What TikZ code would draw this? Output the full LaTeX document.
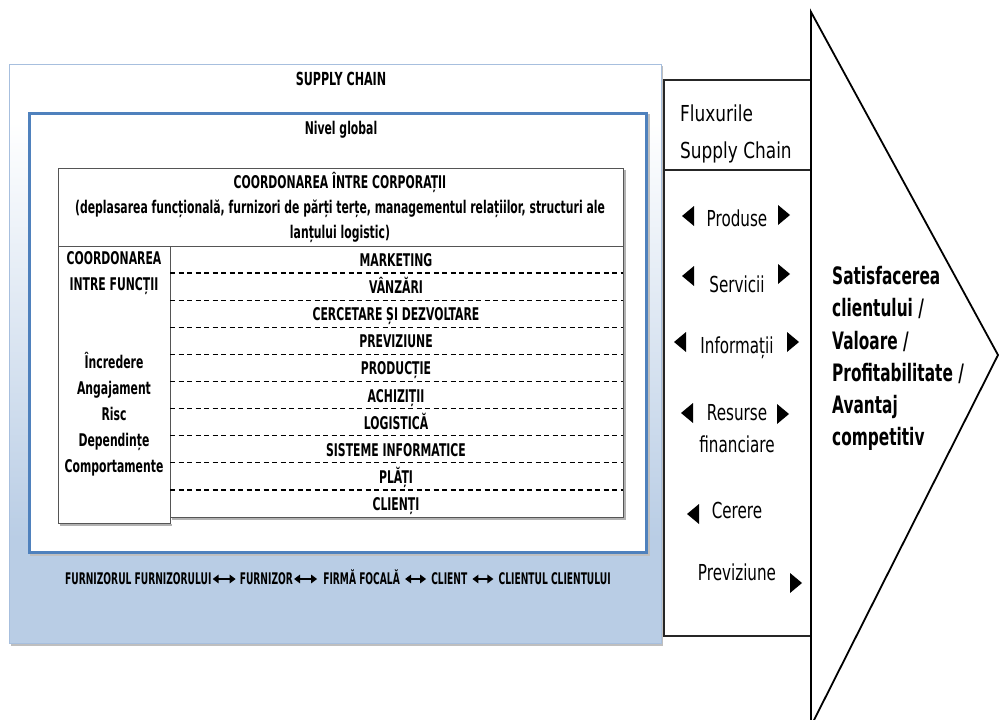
\documentclass[tikz,border=0pt]{standalone}
\usepackage{fontspec}
\usetikzlibrary{arrows.meta}
\setmainfont{DejaVu Sans}[FakeStretch=0.62]
\newfontfamily\headfont{DejaVu Sans}[FakeStretch=0.77]
\newfontfamily\fluxfont{DejaVu Sans}[FakeStretch=0.69]
\newfontfamily\chainfont{DejaVu Sans}[FakeStretch=0.57]
\newfontfamily\goalfont{DejaVu Sans}[FakeStretch=0.64]

\definecolor{panelblue}{HTML}{B9CDE5}
\definecolor{frameblue}{HTML}{4F81BD}
\definecolor{edgeblue}{HTML}{A7BFDE}
\definecolor{tablegrey}{HTML}{555555}

% background of the supply chain panel: white at the top, blue towards the bottom
% (the panel itself covers the band 25bp..75bp of the shading)
\pgfdeclareverticalshading{panelshade}{100bp}{color(0bp)=(panelblue); color(34bp)=(panelblue); color(70bp)=(white); color(100bp)=(white)}

% filled arrow heads used in the flow column
\newcommand\tipleft[2]{\fill[black] (#1-6,#2) -- (#1+6,#2-10) -- (#1+6,#2+10) -- cycle;}
\newcommand\tipright[2]{\fill[black] (#1+6,#2) -- (#1-6,#2-10) -- (#1-6,#2+10) -- cycle;}

\tikzset{
  boldlbl/.style={inner sep=0pt, align=center, font=\bfseries\fontsize{17.5}{25}\selectfont},
  rowlbl/.style={inner sep=0pt, text height=12.5pt, text depth=0pt, font=\bfseries\fontsize{17.5}{20}\selectfont},
  chainlbl/.style={inner sep=0pt, anchor=west, text height=11.7pt, text depth=0pt, font=\chainfont\bfseries\fontsize{16}{18}\selectfont},
  chainarrow/.style={line width=1.8pt, {Triangle[length=6pt,width=8.5pt]}-{Triangle[length=6pt,width=8.5pt]}},
  fluxlbl/.style={inner sep=0pt, align=center, font=\fluxfont\fontsize{22}{32}\selectfont},
  tableline/.style={draw=tablegrey, line width=1pt},
  tableshadow/.style={draw=black!30, line width=2pt},
  rowsep/.style={draw=black, line width=1.3pt, dash pattern=on 5pt off 3.5pt},
  flowline/.style={draw=black!85, line width=1.8pt},
}

\begin{document}
\begin{tikzpicture}[x=1pt, y=-1pt]
\useasboundingbox (0,0) rectangle (999,720);

% outer "supply chain" panel with its shadow
\fill[black!25] (11,66) rectangle (663,646);
\shade[shading=panelshade] (9,64) rectangle (661,643);
\draw[edgeblue, line width=1pt] (9,64) rectangle (661,643);
\node[boldlbl, font=\bfseries\fontsize{18}{20}\selectfont] (sc) at (341,79) {SUPPLY CHAIN};

% global level frame
\draw[black!25, line width=3pt] (31,115) rectangle (648,554);
\draw[frameblue, fill=white, line width=3pt] (29,113) rectangle (646,552);
\node[boldlbl] (global) at (341,130) {Nivel global};

% table shadows
\draw[tableshadow] (60,525) -- (172,525);
\draw[tableshadow] (172,519) -- (625,519) -- (625,170);
% table frame
\draw[tableline] (58,168) rectangle (623,246);
\draw[tableline] (58,246) rectangle (170,523);
\draw[tableline] (170,246) rectangle (623,517);

\node[boldlbl] (corp) at (340,207)
  {COORDONAREA ÎNTRE CORPORAȚII\\(deplasarea funcțională, furnizori de părți terțe, managementul relațiilor, structuri ale\\lanțului logistic)};

\node[boldlbl, font=\bfseries\fontsize{17.5}{26}\selectfont] (func) at (114,273)
  {COORDONAREA\\INTRE FUNCȚII};
\node[boldlbl, font=\bfseries\fontsize{17.5}{26}\selectfont] (factors) at (114,414)
  {Încredere\\Angajament\\Risc\\Dependințe\\Comportamente};

% functional rows separated by dashed lines
\foreach \i in {1,...,9}
  \draw[rowsep] (170,246+27.1*\i) -- (623,246+27.1*\i);
\foreach \t [count=\i] in {MARKETING, VÂNZĂRI, CERCETARE ȘI DEZVOLTARE, PREVIZIUNE,
    PRODUCȚIE, ACHIZIȚII, LOGISTICĂ, SISTEME INFORMATICE, PLĂȚI, CLIENȚI}
  \node[rowlbl] (row\i) at (396,246+27.1*\i-12.8) {\t};

% chain of partners
\node[chainlbl] (ff) at (65,579) {FURNIZORUL FURNIZORULUI};
\node[chainlbl] (furn) at ([xshift=28pt]ff.east) {FURNIZOR};
\node[chainlbl] (focal) at ([xshift=30pt]furn.east) {FIRMĂ FOCALĂ};
\node[chainlbl] (client) at ([xshift=31pt]focal.east) {CLIENT};
\node[chainlbl] (cc) at ([xshift=31pt]client.east) {CLIENTUL CLIENTULUI};
\draw[chainarrow] ([xshift=1pt]ff.east) -- ([xshift=-4pt]furn.west);
\draw[chainarrow] ([xshift=1pt]furn.east) -- ([xshift=-6pt]focal.west);
\draw[chainarrow] ([xshift=5pt]focal.east) -- ([xshift=-5pt]client.west);
\draw[chainarrow] ([xshift=5pt]client.east) -- ([xshift=-5pt]cc.west);

% flows column
\draw[flowline] (811,80) -- (664,80) -- (664,636) -- (811,636);
\draw[flowline] (664,170) -- (811,170);
\node[inner sep=0pt, align=left, anchor=west, font=\headfont\fontsize{22}{37}\selectfont] (fluxhead) at (680,134)
  {Fluxurile\\Supply Chain};

\node[fluxlbl] (produse) at (737,218) {Produse};
\tipleft{688}{216} \tipright{784}{215}
\node[fluxlbl] (servicii) at (737,284) {Servicii};
\tipleft{688}{276} \tipright{784}{274}
\node[fluxlbl] (informatii) at (737,348) {Informații};
\tipleft{680}{342} \tipright{793}{342}
\node[fluxlbl] (resurse) at (737,429) {Resurse\\financiare};
\tipleft{687}{413} \tipright{783}{414}
\node[fluxlbl] (cerere) at (737,510) {Cerere};
\tipleft{693}{514}
\node[fluxlbl] (previziune) at (737,572) {Previziune};
\tipright{796}{583}

% outcome arrow
\draw[black, line width=1.8pt, line join=miter] (811,726) -- (811,12) -- (998,355) -- (811,726);
\node[inner sep=0pt, align=left, anchor=north west, font=\goalfont\bfseries\fontsize{24}{32.3}\selectfont] (outcome) at (832,266)
  {Satisfacerea\\clientului /\\Valoare /\\Profitabilitate /\\Avantaj\\competitiv};
\end{tikzpicture}
\end{document}
